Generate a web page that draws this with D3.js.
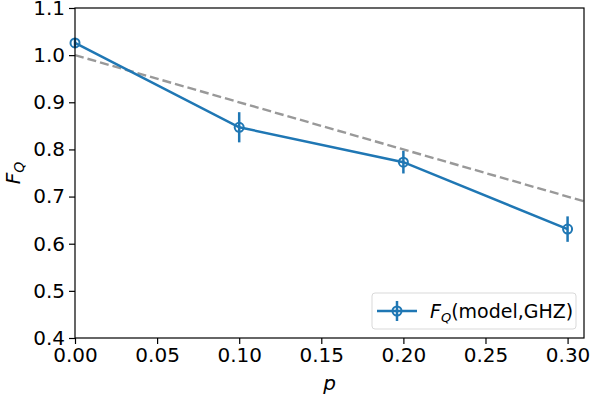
<!DOCTYPE html>
<html>
<head>
<meta charset="utf-8">
<script src="https://cdn.jsdelivr.net/npm/d3@7"></script>
<style>
  body { margin: 0; background: #fff; }
  text { font-family: "DejaVu Sans", sans-serif; }
</style>
</head>
<body>
<div class="container"></div>
<script>
// data
let pValues = [0.0, 0.1, 0.2, 0.3];
let fqValues = [1.026, 0.847, 0.773, 0.631];
let fqErrors = [0.010, 0.032, 0.024, 0.027];
let refLine = [[0.0, 1.0], [0.31, 0.69]];
let xTicks = [0.00, 0.05, 0.10, 0.15, 0.20, 0.25, 0.30];
let yTicks = [0.4, 0.5, 0.6, 0.7, 0.8, 0.9, 1.0, 1.1];

let margin = {
        top: 8,
        right: 8,
        bottom: 60,
        left: 75
    },
    width = 592 - margin.left - margin.right,
    height = 398 - margin.top - margin.bottom;

let blue = "#1f77b4";

let root = d3.select(".container")
    .append("svg")
    .attr("width", width + margin.left + margin.right)
    .attr("height", height + margin.top + margin.bottom);

let svg = root.append("g")
    .attr("transform", "translate(" + margin.left + "," + margin.top + ")");

let x = d3.scaleLinear()
    .domain([0, 0.31])
    .range([0, width]);

let y = d3.scaleLinear()
    .domain([0.4, 1.1])
    .range([height, 0]);

// dashed reference line
svg.append("path")
    .datum(refLine)
    .attr("d", d3.line()
        .x(function (d) { return x(d[0]); })
        .y(function (d) { return y(d[1]); }))
    .attr("fill", "none")
    .attr("stroke", "#999")
    .attr("stroke-width", 2.4)
    .attr("stroke-dasharray", "9,4");

let pts = pValues.map(function (p, i) {
    return { p: p, f: fqValues[i], e: fqErrors[i] };
});

// model line
svg.append("path")
    .datum(pts)
    .attr("d", d3.line()
        .x(function (d) { return x(d.p); })
        .y(function (d) { return y(d.f); }))
    .attr("fill", "none")
    .attr("stroke", blue)
    .attr("stroke-width", 2.5);

// error bars
svg.append("g")
    .selectAll("line")
    .data(pts)
    .enter()
    .append("line")
    .attr("x1", function (d) { return x(d.p); })
    .attr("x2", function (d) { return x(d.p); })
    .attr("y1", function (d) { return y(d.f - d.e); })
    .attr("y2", function (d) { return y(d.f + d.e); })
    .attr("stroke", blue)
    .attr("stroke-width", 2.5);

// markers
svg.append("g")
    .selectAll("circle")
    .data(pts)
    .enter()
    .append("circle")
    .attr("cx", function (d) { return x(d.p); })
    .attr("cy", function (d) { return y(d.f); })
    .attr("r", 4.5)
    .attr("fill", "none")
    .attr("stroke", blue)
    .attr("stroke-width", 2);

// axes
let xAxis = svg.append("g")
    .attr("transform", "translate(0," + height + ")")
    .call(d3.axisBottom(x).tickValues(xTicks).tickFormat(d3.format(".2f")).tickSize(6).tickPadding(4));

let yAxis = svg.append("g")
    .call(d3.axisLeft(y).tickValues(yTicks).tickFormat(d3.format(".1f")).tickSize(6).tickPadding(4));

[xAxis, yAxis].forEach(function (a) {
    a.selectAll("text").style("font-size", "20px").attr("fill", "#000");
    a.selectAll("line").attr("stroke", "#000").attr("stroke-width", 1.2);
    a.select(".domain").remove();
});

// frame
svg.append("rect")
    .attr("x", 0)
    .attr("y", 0)
    .attr("width", width)
    .attr("height", height)
    .attr("fill", "none")
    .attr("stroke", "#000")
    .attr("stroke-width", 1.2);

// axis labels
root.append("text")
    .attr("x", margin.left + x(0.155))
    .attr("y", 390)
    .attr("text-anchor", "middle")
    .style("font-size", "20px")
    .style("font-style", "italic")
    .text("p");

let yl = root.append("text")
    .attr("transform", "translate(20," + (margin.top + height / 2) + ") rotate(-90)")
    .attr("text-anchor", "middle")
    .style("font-size", "20px");
yl.append("tspan").style("font-style", "italic").text("F");
yl.append("tspan").style("font-style", "italic").style("font-size", "14px").attr("dy", 4).text("Q");

// legend
let lg = root.append("g")
    .attr("transform", "translate(372,293)");

lg.append("rect")
    .attr("width", 204)
    .attr("height", 36)
    .attr("rx", 3)
    .attr("fill", "#fff")
    .attr("fill-opacity", 0.8)
    .attr("stroke", "#d9d9d9")
    .attr("stroke-width", 1);

lg.append("line")
    .attr("x1", 5).attr("x2", 45)
    .attr("y1", 18).attr("y2", 18)
    .attr("stroke", blue)
    .attr("stroke-width", 2.5);

lg.append("line")
    .attr("x1", 25).attr("x2", 25)
    .attr("y1", 8).attr("y2", 28)
    .attr("stroke", blue)
    .attr("stroke-width", 2.5);

lg.append("circle")
    .attr("cx", 25)
    .attr("cy", 18)
    .attr("r", 4.5)
    .attr("fill", "none")
    .attr("stroke", blue)
    .attr("stroke-width", 2);

let lt = lg.append("text")
    .attr("x", 58)
    .attr("y", 25)
    .style("font-size", "19px");
lt.append("tspan").style("font-style", "italic").text("F");
lt.append("tspan").style("font-style", "italic").style("font-size", "13px").attr("dy", 4).text("Q");
lt.append("tspan").attr("dy", -4).text("(model,GHZ)");
</script>
</body>
</html>
